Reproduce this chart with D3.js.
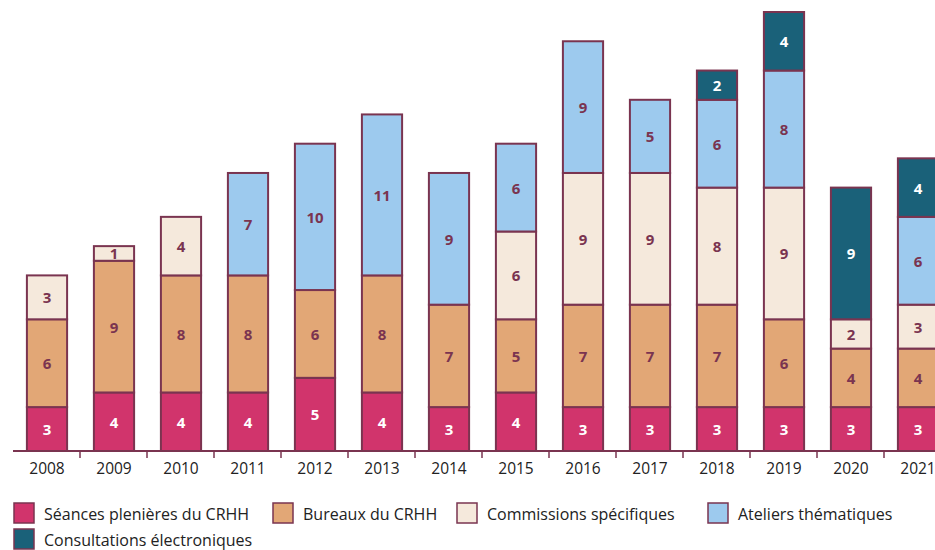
<!DOCTYPE html>
<meta charset="utf-8">
<style>
body { margin: 0; background: #fff; }
svg { font-family: "Open Sans", Lato, sans-serif; }
</style>
<svg width="935" height="550"></svg>
<script src="https://d3js.org/d3.v7.min.js"></script>
<script>
// data
var years = ['2008','2009','2010','2011','2012','2013','2014','2015','2016','2017','2018','2019','2020','2021']
var seances     = [3, 4, 4, 4, 5, 4, 3, 4, 3, 3, 3, 3, 3, 3]
var bureaux     = [6, 9, 8, 8, 6, 8, 7, 5, 7, 7, 7, 6, 4, 4]
var commissions = [3, 1, 4, 0, 0, 0, 0, 6, 9, 9, 8, 9, 2, 3]
var ateliers    = [0, 0, 0, 7, 10, 11, 9, 6, 9, 5, 6, 8, 0, 6]
var consult     = [0, 0, 0, 0, 0, 0, 0, 0, 0, 0, 2, 4, 9, 4]

var seriesNames = ['Séances plenières du CRHH', 'Bureaux du CRHH', 'Commissions spécifiques', 'Ateliers thématiques', 'Consultations électroniques']
var seriesColors = ['#d1346c', '#e2a776', '#f5e9dc', '#9dcaee', '#1a6179']
var labelColors = ['#fff', '#7a3450', '#7a3450', '#7a3450', '#fff']
var keys = ['s', 'b', 'c', 'a', 'e']

var rows = years.map(function (y, i) {
  return { year: y, s: seances[i], b: bureaux[i], c: commissions[i], a: ateliers[i], e: consult[i] }
})

var svg = d3.select('svg')
var stroke = '#7a3450'

var x = d3.scaleBand()
  .domain(years)
  .range([13.5, 13.5 + 67 * years.length])
  .paddingInner(0.4)
  .paddingOuter(0.2)

var y = d3.scaleLinear()
  .domain([0, 30])
  .range([451, 12])

var stack = d3.stack().keys(keys)
var layers = stack(rows)

var groups = svg.append('g').selectAll('g')
  .data(layers)
  .join('g')

groups.each(function (layer, li) {
  var g = d3.select(this)
  var segs = layer.filter(function (d) { return d[1] - d[0] > 0 })
  g.selectAll('rect')
    .data(segs)
    .join('rect')
    .attr('x', function (d) { return x(d.data.year) })
    .attr('y', function (d) { return y(d[1]) })
    .attr('width', x.bandwidth())
    .attr('height', function (d) { return y(d[0]) - y(d[1]) })
    .attr('fill', seriesColors[li])
    .attr('stroke', stroke)
    .attr('stroke-width', 2)
  g.selectAll('text')
    .data(segs)
    .join('text')
    .attr('x', function (d) { return x(d.data.year) + x.bandwidth() / 2 })
    .attr('y', function (d) { return (y(d[0]) + y(d[1])) / 2 })
    .attr('text-anchor', 'middle')
    .attr('dominant-baseline', 'central')
    .attr('font-size', 15)
    .attr('font-weight', 700)
    .attr('fill', labelColors[li])
    .text(function (d) { return d[1] - d[0] })
})

// axis
var axis = svg.append('g')
axis.append('line')
  .attr('x1', 13).attr('x2', 935)
  .attr('y1', 451).attr('y2', 451)
  .attr('stroke', stroke).attr('stroke-width', 2)
axis.selectAll('.tick')
  .data(years.slice(1))
  .join('line')
  .attr('x1', function (d) { return x(d) - x.step() * x.paddingInner() / 2 - 0.5 })
  .attr('x2', function (d) { return x(d) - x.step() * x.paddingInner() / 2 - 0.5 })
  .attr('y1', 451).attr('y2', 458)
  .attr('stroke', stroke).attr('stroke-width', 1.5)
axis.selectAll('text')
  .data(years)
  .join('text')
  .attr('x', function (d) { return x(d) + x.bandwidth() / 2 })
  .attr('y', 474)
  .attr('text-anchor', 'middle')
  .attr('font-size', 15.5)
  .attr('fill', '#222')
  .text(function (d) { return d })

// legend
var legendPos = [[14, 503], [273, 503], [457, 503], [708, 503], [14, 529]]
var legend = svg.append('g').selectAll('g')
  .data(seriesNames)
  .join('g')
  .attr('transform', function (d, i) { return 'translate(' + legendPos[i][0] + ',' + legendPos[i][1] + ')' })
legend.append('rect')
  .attr('width', 20).attr('height', 20)
  .attr('fill', function (d, i) { return seriesColors[i] })
  .attr('stroke', stroke).attr('stroke-width', 1.5)
legend.append('text')
  .attr('x', 30).attr('y', 11)
  .attr('dominant-baseline', 'central')
  .attr('font-size', 16)
  .attr('fill', '#222')
  .text(function (d) { return d })
</script>
